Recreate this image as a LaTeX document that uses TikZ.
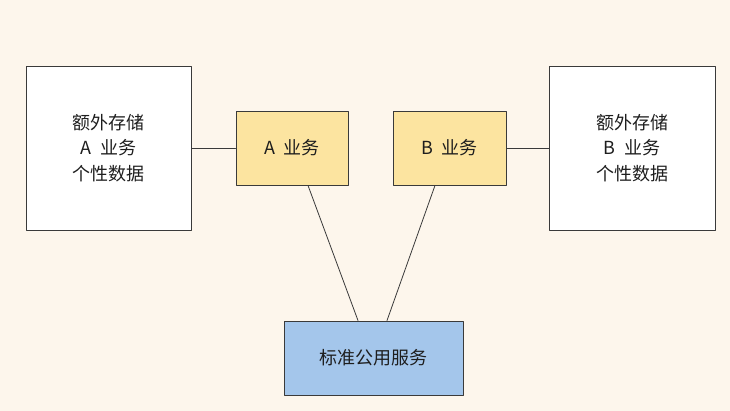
\documentclass[tikz,border=0pt]{standalone}
\usepackage{fontspec}
\setmainfont{Noto Sans CJK SC}
\usepackage{xcolor}
\usepackage{tikz}
\usetikzlibrary{positioning}
\definecolor{cream}{HTML}{FDF6EC}
\definecolor{softyellow}{HTML}{FCE4A0}
\definecolor{softblue}{HTML}{A4C6EB}
\definecolor{ink}{HTML}{1E1E1E}
\definecolor{edge}{HTML}{3A3A3A}
\tikzset{
    every picture/.style={line cap=round,line join=round},
    storebox/.style={draw=edge,fill=white,line width=0.9pt,
      minimum width=165pt,minimum height=164pt,inner sep=2pt,
      text=ink,font=\fontsize{18}{25.5}\selectfont,align=center},
    bizbox/.style={draw=edge,fill=softyellow,line width=0.9pt,
      minimum width=112pt,minimum height=74pt,inner sep=2pt,
      text=ink,font=\fontsize{18}{25.5}\selectfont,align=center},
    commonbox/.style={draw=edge,fill=softblue,line width=0.9pt,
      minimum width=179pt,minimum height=74pt,inner sep=2pt,
      text=ink,font=\fontsize{18}{25.5}\selectfont,align=center},
    link/.style={draw=edge,line width=0.8pt}
}
\begin{document}
\begin{tikzpicture}[x=1pt,y=1pt]
  \fill[cream] (0,0) rectangle (730,411);
  \useasboundingbox (0,0) rectangle (730,411);
  \node[storebox] (leftstore) at (108.5,263) {额外存储\\A\hspace{0.25em} 业务\\个性数据};
  \node[bizbox] (abiz) at (292,263) {A\hspace{0.25em} 业务};
  \node[bizbox,minimum width=113pt] (bbiz) at (449.5,263) {B\hspace{0.25em} 业务};
  \node[storebox,minimum width=166pt] (rightstore) at (632,263) {额外存储\\B\hspace{0.25em} 业务\\个性数据};
  \node[commonbox] (common) at (373.5,53) {标准公用服务};
  \draw[link] (leftstore.east) -- (abiz.west);
  \draw[link] (bbiz.east) -- (rightstore.west);
  \draw[link] ([xshift=16pt]abiz.south) -- ([xshift=-15.5pt]common.north);
  \draw[link] ([xshift=-14.5pt]bbiz.south) -- ([xshift=13.5pt]common.north);
\end{tikzpicture}
\end{document}
